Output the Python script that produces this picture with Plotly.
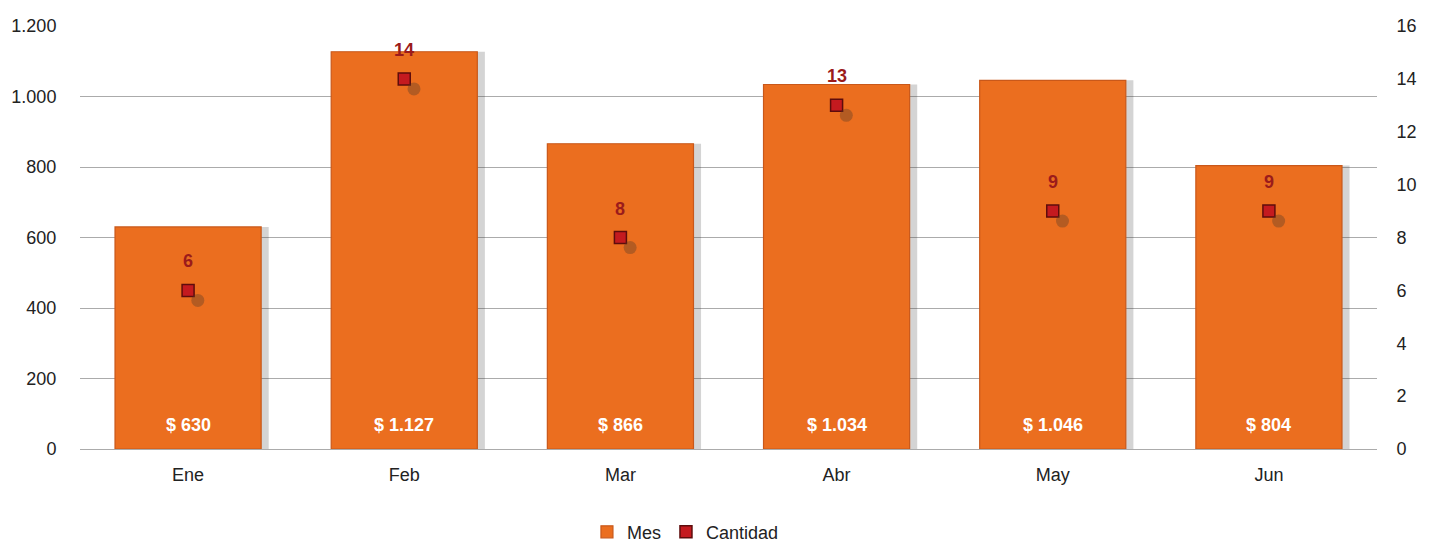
import plotly.graph_objects as go

# Monthly totals and counts
meses = ["Ene", "Feb", "Mar", "Abr", "May", "Jun"]
importe = [630, 1127, 866, 1034, 1046, 804]
cantidad = [6, 14, 8, 13, 9, 9]

FONT = "Liberation Sans, Arial, sans-serif"
BAR_W = 0.676
ORANGE = "#EB6E1F"
DARK_RED = "#9B1B1B"

# pixel-based offset for the marker shadow (axis ranges shifted slightly)
SH_X = 0.045   # category units
SH_Y = 0.38    # count units


def fmt_miles(v):
    return "$ " + f"{v:,}".replace(",", ".")


fig = go.Figure()

# soft drop shadow on the right side of each bar
fig.add_trace(go.Bar(
    x=meses, y=importe, width=BAR_W, offset=-BAR_W / 2 + 0.035,
    marker=dict(color="rgba(60,60,60,0.22)", line=dict(width=0)),
    showlegend=False, hoverinfo="skip",
))

fig.add_trace(go.Bar(
    x=meses, y=importe, name="Mes", width=BAR_W, offset=-BAR_W / 2,
    marker=dict(color=ORANGE, line=dict(color="#C9581A", width=1.2)),
))

# shadow under each count marker
fig.add_trace(go.Scatter(
    x=meses, y=cantidad, xaxis="x2", yaxis="y3", mode="markers",
    marker=dict(symbol="circle", size=13, color="rgba(90,60,40,0.38)",
                line=dict(width=0)),
    showlegend=False, hoverinfo="skip",
))

fig.add_trace(go.Scatter(
    x=meses, y=cantidad, name="Cantidad", yaxis="y2", mode="markers",
    marker=dict(symbol="square", size=12, color="#C41A1F",
                line=dict(color="#5E0C0C", width=1.5)),
))

# value labels at the base of each bar
for m, v in zip(meses, importe):
    fig.add_annotation(x=m, y=0, yref="y", text=fmt_miles(v), showarrow=False,
                       yshift=24, font=dict(family=FONT, size=18, color="white",
                                            weight="bold"))

# count labels above each marker
for m, c in zip(meses, cantidad):
    fig.add_annotation(x=m, y=c, yref="y2", text=str(c), showarrow=False,
                       yshift=29, font=dict(family=FONT, size=18, color=DARK_RED,
                                            weight="bold"))

fig.update_layout(
    width=1434, height=543,
    margin=dict(l=80, r=57, t=26, b=94),
    paper_bgcolor="white", plot_bgcolor="white",
    barmode="overlay",
    separators=",.",
    font=dict(family=FONT, size=18, color="#222222"),
    xaxis=dict(range=[-0.5, 5.5], showgrid=False, showline=False,
               ticks="outside", ticklen=9, tickcolor="rgba(0,0,0,0)",
               tickfont=dict(size=18)),
    xaxis2=dict(range=[-0.5 - SH_X, 5.5 - SH_X], overlaying="x",
                visible=False),
    yaxis=dict(range=[0, 1200], dtick=200, tickformat=",d",
               showgrid=True, gridcolor="#ABABAB", gridwidth=1.2,
               zeroline=True, zerolinecolor="#ABABAB", zerolinewidth=1.2,
               ticks="outside", ticklen=19, tickcolor="rgba(0,0,0,0)",
               tickfont=dict(size=18)),
    yaxis2=dict(range=[0, 16], dtick=2, overlaying="y", side="right",
                showgrid=False, zeroline=False,
                ticks="outside", ticklen=15, tickcolor="rgba(0,0,0,0)",
                tickfont=dict(size=18)),
    yaxis3=dict(range=[SH_Y, 16 + SH_Y], overlaying="y", visible=False),
    legend=dict(orientation="h", xref="container", x=0.478, xanchor="center",
                yref="container", y=0.02, yanchor="middle",
                font=dict(size=18), itemwidth=30, traceorder="normal"),
)

fig.write_html("out.html")
